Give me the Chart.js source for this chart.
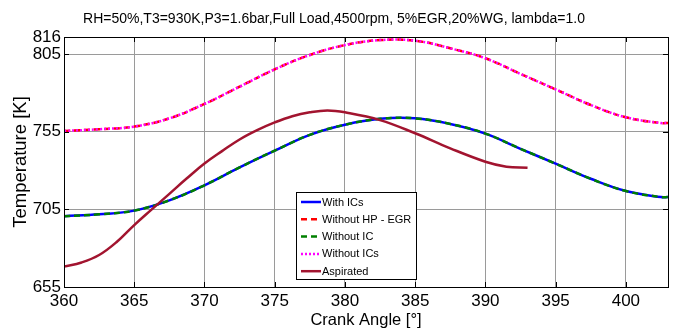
<!DOCTYPE html>
<html>
<head>
<meta charset="utf-8">
<script src="https://cdn.jsdelivr.net/npm/chart.js@4.4.1/dist/chart.umd.min.js"></script>
<style>
html,body{margin:0;padding:0;background:#fff}
#wrap{width:675px;height:331px}
</style>
</head>
<body>
<div id="wrap"><canvas id="c" width="675" height="331"></canvas></div>
<script>
/* data */
var titleText='RH=50%,T3=930K,P3=1.6bar,Full Load,4500rpm, 5%EGR,20%WG, lambda=1.0';
var angle=[360,362.5,365,367.5,370,372.5,375,377.5,380,382.5,385,387.5,390,392.5,395,397.5,400,402.5,403];
var withICs=[700.6,701.8,704.2,710.8,720.5,732,742.8,753,759.5,763.3,763.6,760,753.8,744,734.4,724.7,716.8,712.9,712.9];
var withoutHPEGR=[755.5,756.6,758.3,763.6,772.9,784,795.2,804.4,810.8,814,813.6,808.7,802.3,792.2,782.3,772.2,764.3,760.6,760.6];
var withoutIC=[700.6,701.8,704.2,710.8,720.5,732,742.8,753,759.5,763.3,763.6,760,753.8,744,734.4,724.7,716.8,712.9,712.9];
var withoutICs=[755.5,756.6,758.3,763.6,772.9,784,795.2,804.4,810.8,814,813.6,808.7,802.3,792.2,782.3,772.2,764.3,760.6,760.6];
var aspAngle=[360,361.25,362.5,363.75,365,366.25,367.5,368.75,370,371.25,372.5,373.75,375,376.25,377.5,378.75,380,382.5,385,387.5,390,391.5,393];
var aspirated=[668.1,670.8,675.6,684,694.9,705,715,725,734.5,742.5,750,756,761,765,767.5,768.7,767.5,762.5,754,744.3,735.7,732.5,731.8];
var xTicks=[360,365,370,375,380,385,390,395,400];
var yTicks=[655,705,755,805,816];

var SANS="'Liberation Sans',Arial,sans-serif";

function pts(xs,ys){return ys.map(function(y,i){return {x:xs[i],y:y};});}
function ds(label,xs,ys,color,dash,order){
  return {label:label,data:pts(xs,ys),borderColor:color,backgroundColor:color,borderWidth:2.5,
    borderDash:dash,pointRadius:0,tension:0.4,fill:false,order:order};
}

// box, inward tick marks and the legend, matlab style
var frame={id:'frame',afterDraw:function(c){
  var ctx=c.ctx,a=c.chartArea,sx=c.scales.x,sy=c.scales.y;
  ctx.save();
  ctx.strokeStyle='#000';ctx.lineWidth=1;
  ctx.strokeRect(Math.round(a.left)+0.5,Math.round(a.top)+0.5,Math.round(a.right-a.left),Math.round(a.bottom-a.top));
  ctx.beginPath();
  xTicks.forEach(function(v){var p=Math.round(sx.getPixelForValue(v))+0.5;
    ctx.moveTo(p,a.bottom);ctx.lineTo(p,a.bottom-5);ctx.moveTo(p,a.top);ctx.lineTo(p,a.top+5);});
  yTicks.forEach(function(v){var p=Math.round(sy.getPixelForValue(v))+0.5;
    ctx.moveTo(a.left,p);ctx.lineTo(a.left+5,p);ctx.moveTo(a.right,p);ctx.lineTo(a.right-5,p);});
  ctx.stroke();
  // legend
  var lx=296,ly=192,lw=120,lh=87;
  ctx.fillStyle='#fff';ctx.fillRect(lx,ly,lw,lh);
  ctx.strokeRect(lx+0.5,ly+0.5,lw,lh);
  ctx.font='11px '+SANS;ctx.textBaseline='middle';ctx.textAlign='left';
  c.data.datasets.forEach(function(d,i){
    var y=ly+10+i*17.3;
    ctx.strokeStyle=d.borderColor;ctx.lineWidth=2.5;ctx.setLineDash(d.borderDash||[]);
    ctx.beginPath();ctx.moveTo(lx+5,y);ctx.lineTo(lx+25,y);ctx.stroke();
    ctx.setLineDash([]);
    ctx.fillStyle='#000';ctx.fillText(d.label,lx+26,y+0.5);
  });
  ctx.restore();
}};

new Chart(document.getElementById('c'),{
  type:'line',
  data:{datasets:[
    ds('With ICs',angle,withICs,'#0000ff',[],5),
    ds('Without HP - EGR',angle,withoutHPEGR,'#ff0000',[6,4],4),
    ds('Without IC',angle,withoutIC,'#008000',[6,4],3),
    ds('Without ICs',angle,withoutICs,'#ff00ff',[2,2],2),
    ds('Aspirated',aspAngle,aspirated,'#a2142f',[],1)
  ]},
  options:{
    responsive:false,animation:false,devicePixelRatio:1,
    layout:{padding:{left:0,right:7,top:0,bottom:0}},
    plugins:{
      legend:{display:false},tooltip:{enabled:false},
      title:{display:true,text:titleText,color:'#000',font:{family:SANS,size:14,weight:'normal'},padding:{top:10.5,bottom:9.7}}
    },
    scales:{
      x:{type:'linear',min:360,max:403,
        afterBuildTicks:function(s){s.ticks=xTicks.map(function(v){return {value:v};});},
        afterFit:function(s){s.height=44;},
        grid:{color:'#9a9a9a',drawTicks:false},border:{display:false},
        ticks:{color:'#000',padding:4,maxRotation:0,font:{family:SANS,size:17}},
        title:{display:true,text:'Crank Angle [°]',color:'#000',font:{family:SANS,size:16.5},padding:{top:0,bottom:1}}},
      y:{type:'linear',min:655,max:816,
        afterBuildTicks:function(s){s.ticks=yTicks.map(function(v){return {value:v};});},
        afterFit:function(s){s.width=64;},
        grid:{color:'#9a9a9a',drawTicks:false},border:{display:false},
        ticks:{color:'#000',padding:3,font:{family:SANS,size:17}},
        title:{display:true,text:'Temperature [K]',color:'#000',font:{family:SANS,size:18.5},padding:{top:10,bottom:0}}}
    }
  },
  plugins:[frame]
});
</script>
</body>
</html>
